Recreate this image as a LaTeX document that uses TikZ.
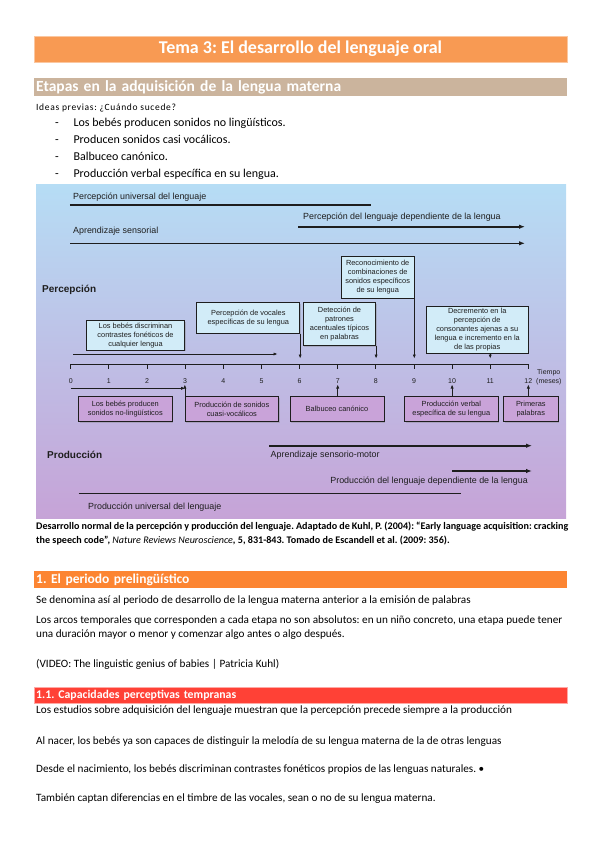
\documentclass[tikz,border=0pt]{standalone}
\usepackage{fontspec}
\setmainfont{Carlito}
\newfontfamily\diagfont{Liberation Sans}
\newfontfamily\spacedfont[LetterSpace=7]{Carlito}
\usetikzlibrary{arrows.meta,positioning,shadows}
\frenchspacing

\definecolor{titleorange}{HTML}{F89A53}
\definecolor{etapastan}{HTML}{CBB49D}
\definecolor{secorange}{HTML}{FC8532}
\definecolor{subred}{HTML}{FF4136}
\definecolor{skytop}{HTML}{B6DDF5}
\definecolor{skymid}{HTML}{C2C6EE}
\definecolor{lilacbot}{HTML}{C6A3D7}
\definecolor{percfill}{HTML}{D2ECF8}
\definecolor{prodfill}{HTML}{C9A3D9}
\definecolor{inkgray}{HTML}{1E1E1E}

\begin{document}
\begin{tikzpicture}[x=1pt, y=-1pt,
    % barras de encabezado
    titlebar/.style={fill=titleorange, draw=titleorange!55!white, line width=0.6pt,
        minimum width=533pt, minimum height=26pt, inner sep=0pt, text=white,
        font=\bfseries\fontsize{18}{21}\selectfont},
    secbar/.style={anchor=north west, minimum width=533pt, text width=529pt,
        inner xsep=2pt, inner ysep=0pt, align=left, text=white},
    % texto corrido
    txt/.style={anchor=base west, inner sep=0pt, font=\fontsize{11.2}{13}\selectfont},
    bullet/.style={anchor=base west, inner sep=0pt, font=\fontsize{12}{14}\selectfont},
    % textos del gráfico
    lbl/.style={anchor=west, inner sep=0pt, text=inkgray, font=\diagfont\fontsize{8.9}{10}\selectfont},
    rowhead/.style={anchor=west, inner sep=0pt, text=inkgray, font=\diagfont\bfseries\fontsize{10}{12}\selectfont},
    month/.style={inner sep=0pt, text=inkgray, font=\diagfont\fontsize{7}{8}\selectfont},
    % cajas de percepción y de producción
    pbox/.style={draw=inkgray, line width=0.7pt, fill=percfill, align=center, inner sep=0.5pt,
        text=inkgray, font=\diagfont\fontsize{7.4}{9}\selectfont,
        drop shadow={shadow xshift=1pt, shadow yshift=-1pt, opacity=0.35}},
    qbox/.style={pbox, fill=prodfill},
    % líneas de etapas y flechas
    spanline/.style={line width=1.6pt, inkgray},
    spanarrow/.style={spanline, -{Latex[length=6pt,width=4.5pt]}},
    axisline/.style={line width=0.9pt, inkgray},
    boxarrow/.style={line width=0.7pt, inkgray, -{Latex[length=4pt,width=3.2pt]}}
]
    \useasboundingbox (0,0) rectangle (599,848);

    % 1. encabezados y lista inicial
    \node[titlebar] (title) at (300.5,49) {Tema 3: El desarrollo del lenguaje oral};
    \node[secbar, fill=etapastan, minimum height=18.5pt, font=\bfseries\fontsize{15.5}{18}\selectfont]
        (etapas) at (34,77.7) {Etapas en la adquisición de la lengua materna};
    \node[txt, font=\spacedfont\fontsize{9.5}{11}\selectfont] (ideas) at (36,110.4) {Ideas previas: ¿Cuándo sucede?};
    \foreach \y/\t [count=\k] in {126.6/Los bebés producen sonidos no lingüísticos.,
                                  143.3/Producen sonidos casi vocálicos.,
                                  160/Balbuceo canónico.,
                                  177.3/Producción verbal específica en su lengua.} {
        \node[bullet] (dash\k) at (55,\y) {-};
        \node[bullet] (item\k) at (73.3,\y) {\t};
    }

    % 2. fondo del gráfico
    \shade[top color=skytop, middle color=skymid, bottom color=lilacbot] (36,184) rectangle (566,518);

    % 3. eje temporal
    \def\xzero{70.8}   % mes 0
    \def\dx{38.13}     % un mes
    \def\yaxis{364.3}  % altura del eje
    \foreach \i in {0,...,12} {
        \coordinate (m\i) at ({\xzero+\i*\dx},\yaxis);
        \coordinate (a\i) at ({\xzero+\i*\dx},358.5);  % punta de flecha desde arriba
        \coordinate (b\i) at ({\xzero+\i*\dx},384.5);  % punta de flecha desde abajo
        \draw[axisline] (m\i) -- ++(0,5);
        \node[month] (n\i) at ({\xzero+\i*\dx},381) {\i};
    }
    \draw[axisline] (m0) -- (m12);
    \node[month, anchor=west] (tiempo) at (537,372.7) {Tiempo};
    \node[month, anchor=west] (meses) at (536,381.7) {(meses)};

    % 4. percepción
    \node[lbl] (univp) at (73,196.7) {Percepción universal del lenguaje};
    \draw[spanline] (69.8,205) -- (371,205);
    \node[lbl] (depp) at (303,217) {Percepción del lenguaje dependiente de la lengua};
    \draw[spanarrow] (298,226.7) -- (525,226.7);
    \node[lbl] (sens) at (73,231) {Aprendizaje sensorial};
    \draw[spanarrow] (70,243.3) -- (525,243.3);
    \node[rowhead] (perc) at (42,290) {Percepción};

    \node[pbox, minimum width=98.3pt, minimum height=29.3pt] (pdisc) at (135.5,335.3)
        {Los bebés discriminan\\contrastes fonéticos de\\cualquier lengua};
    \draw[boxarrow] (73,354) -- (277.5,354);
    \node[pbox, minimum width=103pt, minimum height=30.6pt] (pvoc) at (248.3,318)
        {Percepción de vocales\\específicas de su lengua};
    \node[pbox, minimum width=72.5pt, minimum height=43pt] (pdet) at (339.5,324.2)
        {Detección de\\patrones\\acentuales típicos\\en palabras};
    \node[pbox, minimum width=72.5pt, minimum height=42.3pt] (prec) at (377.7,277.2)
        {Reconocimiento de\\combinaciones de\\sonidos específicos\\de su lengua};
    \node[pbox, minimum width=102.4pt, minimum height=46.6pt] (pdec) at (477.2,330)
        {Decremento en la\\percepción de\\consonantes ajenas a su\\lengua e incremento en la\\de las propias};
    \draw[boxarrow] (pvoc.south east) -- (pvoc.south east |- a6);
    \draw[boxarrow] (pdet.south east) -- (pdet.south east |- a8);
    \draw[boxarrow] (prec.south east) -- (prec.south east |- a9);
    \draw[boxarrow] (pdec.south -| a11) -- (a11);

    % 5. producción
    \draw[boxarrow] (m0 |- 0,388.3) -- (m3 |- 0,388.3);
    \node[qbox, minimum width=93.5pt, minimum height=25pt] (qnoling) at (125.3,409.2)
        {Los bebés producen\\sonidos no-lingüísticos};
    \node[qbox, minimum width=93.3pt, minimum height=25pt] (qcuasi) at (231.85,409.2)
        {Producción de sonidos\\cuasi-vocálicos};
    \node[qbox, minimum width=94pt, minimum height=25pt] (qbalb) at (337,409.2)
        {Balbuceo canónico};
    \node[qbox, minimum width=93.5pt, minimum height=25pt] (qverb) at (451.3,409.2)
        {Producción verbal\\específica de su lengua};
    \node[qbox, minimum width=54.5pt, minimum height=25pt] (qprim) at (530.8,409.2)
        {Primeras\\palabras};
    \draw[boxarrow] (qcuasi.north west) -- (qcuasi.north west |- b3);
    \draw[boxarrow] (qbalb.north -| b7) -- (b7);
    \draw[boxarrow] (qverb.north -| b10) -- (b10);
    \draw[boxarrow] (qprim.north -| b12) -- (b12);

    \node[rowhead] (prod) at (47,455) {Producción};
    \draw[spanarrow] (269,445.7) -- (532,445.7);
    \node[lbl] (senmot) at (270.5,455.3) {Aprendizaje sensorio-motor};
    \draw[spanarrow] (452,471) -- (532,471);
    \node[lbl, anchor=east] (depq) at (528,481) {Producción del lenguaje dependiente de la lengua};
    \draw[spanline] (78.5,493.3) -- (461,493.3);
    \node[lbl] (univq) at (88,506.7) {Producción universal del lenguaje};

    % 6. pie del gráfico
    \node[txt, font=\bfseries\fontsize{10.1}{12}\selectfont] (cap1) at (36,529.4)
        {\makebox[532pt][s]{Desarrollo normal de la percepción y producción del lenguaje. Adaptado de Kuhl, P. (2004): “Early language acquisition: cracking}};
    \node[txt, font=\bfseries\fontsize{10.1}{12}\selectfont] (cap2) at (36,543.7)
        {the speech code”, \textit{\mdseries Nature Reviews Neuroscience}, 5, 831-843. Tomado de Escandell et al. (2009: 356).};

    % 7. apartado 1
    \node[secbar, fill=secorange, minimum height=16.7pt, font=\bfseries\fontsize{13.5}{15}\selectfont]
        (sec1) at (34,571) {1. El periodo prelingüístico};
    \node[txt] (p1) at (36,603.2) {Se denomina así al periodo de desarrollo de la lengua materna anterior a la emisión de palabras};
    \node[txt] (p2a) at (36,623.2) {Los arcos temporales que corresponden a cada etapa no son absolutos: en un niño concreto, una etapa puede tener};
    \node[txt] (p2b) at (36,637.2) {una duración mayor o menor y comenzar algo antes o algo después.};
    \node[txt] (video) at (36,667) {(VIDEO: The linguistic genius of babies | Patricia Kuhl)};

    % 8. apartado 1.1
    \node[secbar, fill=subred, draw=subred!45!white, minimum height=16.6pt, font=\bfseries\fontsize{11.8}{14}\selectfont]
        (sec11) at (34,686.7) {1.1. Capacidades perceptivas tempranas};
    \node[txt] (p3) at (36,713.9) {Los estudios sobre adquisición del lenguaje muestran que la percepción precede siempre a la producción};
    \node[txt] (p4) at (36,744.2) {Al nacer, los bebés ya son capaces de distinguir la melodía de su lengua materna de la de otras lenguas};
    \node[txt] (p5) at (36,772.2) {Desde el nacimiento, los bebés discriminan contrastes fonéticos propios de las lenguas naturales. •};
    \node[txt] (p6) at (36,801.5) {También captan diferencias en el timbre de las vocales, sean o no de su lengua materna.};
\end{tikzpicture}
\end{document}
